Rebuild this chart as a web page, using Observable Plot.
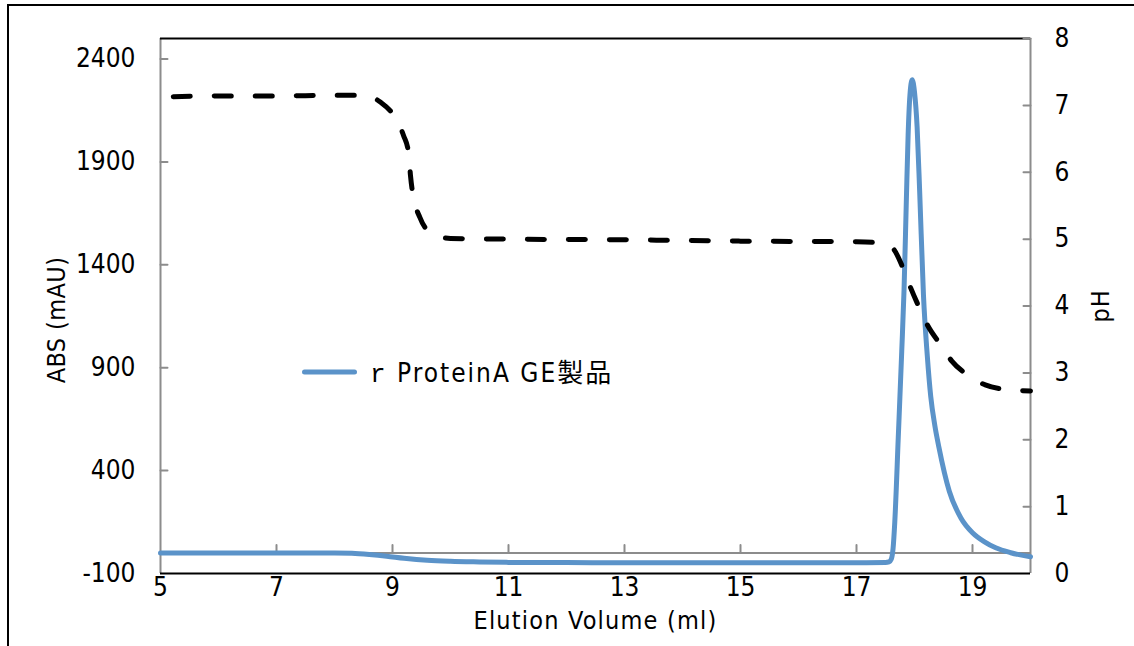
<!DOCTYPE html>
<html>
<head>
<meta charset="utf-8">
<script src="https://cdn.jsdelivr.net/npm/d3@7"></script>
<script src="https://cdn.jsdelivr.net/npm/@observablehq/plot@0.6"></script>
<style>
  html, body { margin: 0; padding: 0; background: #fff; }
  #wrap { position: relative; width: 1134px; height: 646px; overflow: hidden; background: #fff; }
  #chart { position: absolute; left: 0; top: 0; }
  #frame { position: absolute; left: 7px; top: 4px; width: 1200px; height: 700px;
           border-top: 2px solid #000; border-left: 2px solid #000; z-index: 3; pointer-events: none; }
  #legend { position: absolute; left: 290px; top: 340px; z-index: 2; }
</style>
</head>
<body>
<div id="wrap">
  <div id="chart"></div>
  <div id="frame"></div>
  <svg id="legend" width="360" height="60"></svg>
</div>
<script>
const FONT = '"Liberation Sans Narrow", "DejaVu Sans Condensed", "Noto Sans CJK JP", sans-serif';

// ---- data ----
const xTicks = [5, 7, 9, 11, 13, 15, 17, 19];
const absTicks = [-100, 400, 900, 1400, 1900, 2400];
const phTicks = [0, 1, 2, 3, 4, 5, 6, 7, 8];

const absVol = [5, 6, 7, 8, 8.3, 8.6, 8.9, 9.2, 9.6, 10, 10.5, 11, 12, 13, 14, 15, 16, 17, 17.5,
  17.56, 17.6, 17.63, 17.66, 17.72, 17.78, 17.82, 17.86, 17.89, 17.92, 17.96, 18.0, 18.045, 18.09,
  18.155, 18.22, 18.28, 18.35, 18.42, 18.6, 18.8, 19.0, 19.2, 19.4, 19.66, 20];
const absVal = [0, 0, 0, 0, -2, -8, -16, -26, -36, -41, -44, -46, -47, -48, -48, -48, -48, -48, -47,
  -44, -30, 20, 150, 560, 980, 1280, 1720, 2030, 2220, 2300, 2240, 2070, 1750,
  1250, 960, 760, 620, 515, 300, 170, 98, 55, 25, 1, -19];

const phVol = [5.22, 6, 7, 8, 8.45, 8.65, 8.79, 9.02, 9.19, 9.28, 9.31, 9.36, 9.47, 9.66, 10.0,
  11, 13, 15, 17, 17.33, 17.5, 17.64, 17.8, 17.93, 18.09, 18.22, 18.45, 18.64, 18.93, 19.22, 19.6, 20];
const phVal = [7.13, 7.14, 7.14, 7.15, 7.15, 7.12, 7.05, 6.85, 6.55, 6.28, 5.95, 5.63, 5.33, 5.09, 5.01,
  5.0, 4.99, 4.97, 4.96, 4.95, 4.92, 4.85, 4.57, 4.28, 3.96, 3.72, 3.42, 3.18, 2.96, 2.82, 2.75, 2.73];

const seriesName = "r ProteinA GE製品";
const xLabel = "Elution Volume (ml)";
const yLabel = "ABS (mAU)";
const y2Label = "pH";

// ---- helpers ----
const absDomain = [-100, 2500];
const phDomain = [0, 8];
const toAbs = p => absDomain[0] + (p - phDomain[0]) * (absDomain[1] - absDomain[0]) / (phDomain[1] - phDomain[0]);
const fromAbs = v => String(Math.round(phDomain[0] + (v - absDomain[0]) * (phDomain[1] - phDomain[0]) / (absDomain[1] - absDomain[0])));

const absData = absVol.map((x, i) => ({x, y: absVal[i]}));
const phData = phVol.map((x, i) => ({x, y: toAbs(phVal[i])}));

const BLUE = "#5b93c9";
const GRAY = "#8c8c8c";
const plain = d => String(d);

const chart = Plot.plot({
  width: 1134,
  height: 646,
  marginLeft: 160,
  marginRight: 104,
  marginTop: 38,
  marginBottom: 73,
  x: {domain: [5, 20]},
  y: {domain: absDomain},
  style: {fontFamily: FONT, fontSize: "26px", color: "#000", background: "transparent"},
  marks: [
    // zero line and its ticks
    Plot.ruleY([0], {stroke: GRAY, strokeWidth: 2}),
    Plot.vector(xTicks.slice(1), {x: d => d, y: 0, length: 8, rotate: 0, anchor: "start", shape: "spike", r: 0, stroke: GRAY, strokeWidth: 2}),
    // frame lines
    Plot.ruleX([5], {stroke: GRAY, strokeWidth: 2}),
    Plot.ruleX([20], {stroke: GRAY, strokeWidth: 2}),
    Plot.ruleY([absDomain[1]], {stroke: "#000", strokeWidth: 2}),
    Plot.ruleY([absDomain[0]], {stroke: "#000", strokeWidth: 2}),
    // inward ticks on the left and right axes
    Plot.vector(absTicks.slice(1), {x: 5, y: d => d, length: 7, rotate: 90, anchor: "start", shape: "spike", r: 0, stroke: GRAY, strokeWidth: 2}),
    Plot.vector(phTicks.slice(1).map(toAbs), {x: 20, y: d => d, length: 7, rotate: -90, anchor: "start", shape: "spike", r: 0, stroke: GRAY, strokeWidth: 2}),
    // tick labels
    Plot.axisY(absTicks, {anchor: "left", tickSize: 0, tickPadding: 25, tickFormat: plain, label: null, fontSize: 26}),
    Plot.axisY(phTicks.map(toAbs), {anchor: "right", tickSize: 0, tickPadding: 24, tickFormat: fromAbs, label: null, fontSize: 26}),
    Plot.axisX(xTicks, {anchor: "bottom", tickSize: 0, tickPadding: 4, tickFormat: plain, label: null, fontSize: 26}),
    // axis titles
    Plot.text([yLabel], {text: d => d, frameAnchor: "left", textAnchor: "middle", dx: -104, dy: 14, rotate: -90, fontSize: 25, fill: "#000"}),
    Plot.text([xLabel], {text: d => d, frameAnchor: "bottom", textAnchor: "middle", dy: 55, fontSize: 25, fill: "#000"}),
    Plot.text([y2Label], {text: d => d, frameAnchor: "right", textAnchor: "middle", dx: 70, rotate: -90, fontSize: 25, fill: "#000"}),
    // series
    Plot.line(absData, {x: "x", y: "y", stroke: BLUE, strokeWidth: 5, curve: "monotone-x", strokeLinejoin: "round"}),
    Plot.line(phData, {x: "x", y: "y", stroke: "#000", strokeWidth: 5, curve: "monotone-x", strokeDasharray: "17,24", strokeLinecap: "round"})
  ]
});
// slight letter spacing on the axis titles, as in the reference
const spacing = {[xLabel]: "1.2px", [yLabel]: "0.4px", [y2Label]: "1px"};
d3.select(chart).selectAll("text").filter(function () { return this.textContent in spacing; })
  .attr("letter-spacing", function () { return spacing[this.textContent]; });
document.getElementById("chart").appendChild(chart);

// legend (inside the plot area)
const lg = d3.select("#legend");
lg.append("line").attr("x1", 14.5).attr("x2", 64.5).attr("y1", 32).attr("y2", 32)
  .attr("stroke", BLUE).attr("stroke-width", 5).attr("stroke-linecap", "round");
const t = lg.append("text").attr("x", 80).attr("y", 42)
  .attr("font-family", FONT).attr("font-size", 26).attr("letter-spacing", "2px").attr("fill", "#000");
t.append("tspan").attr("font-family", '"Liberation Mono", "DejaVu Sans Mono", monospace').text(seriesName.slice(0, 1));
t.append("tspan").text(seriesName.slice(1));
</script>
</body>
</html>
